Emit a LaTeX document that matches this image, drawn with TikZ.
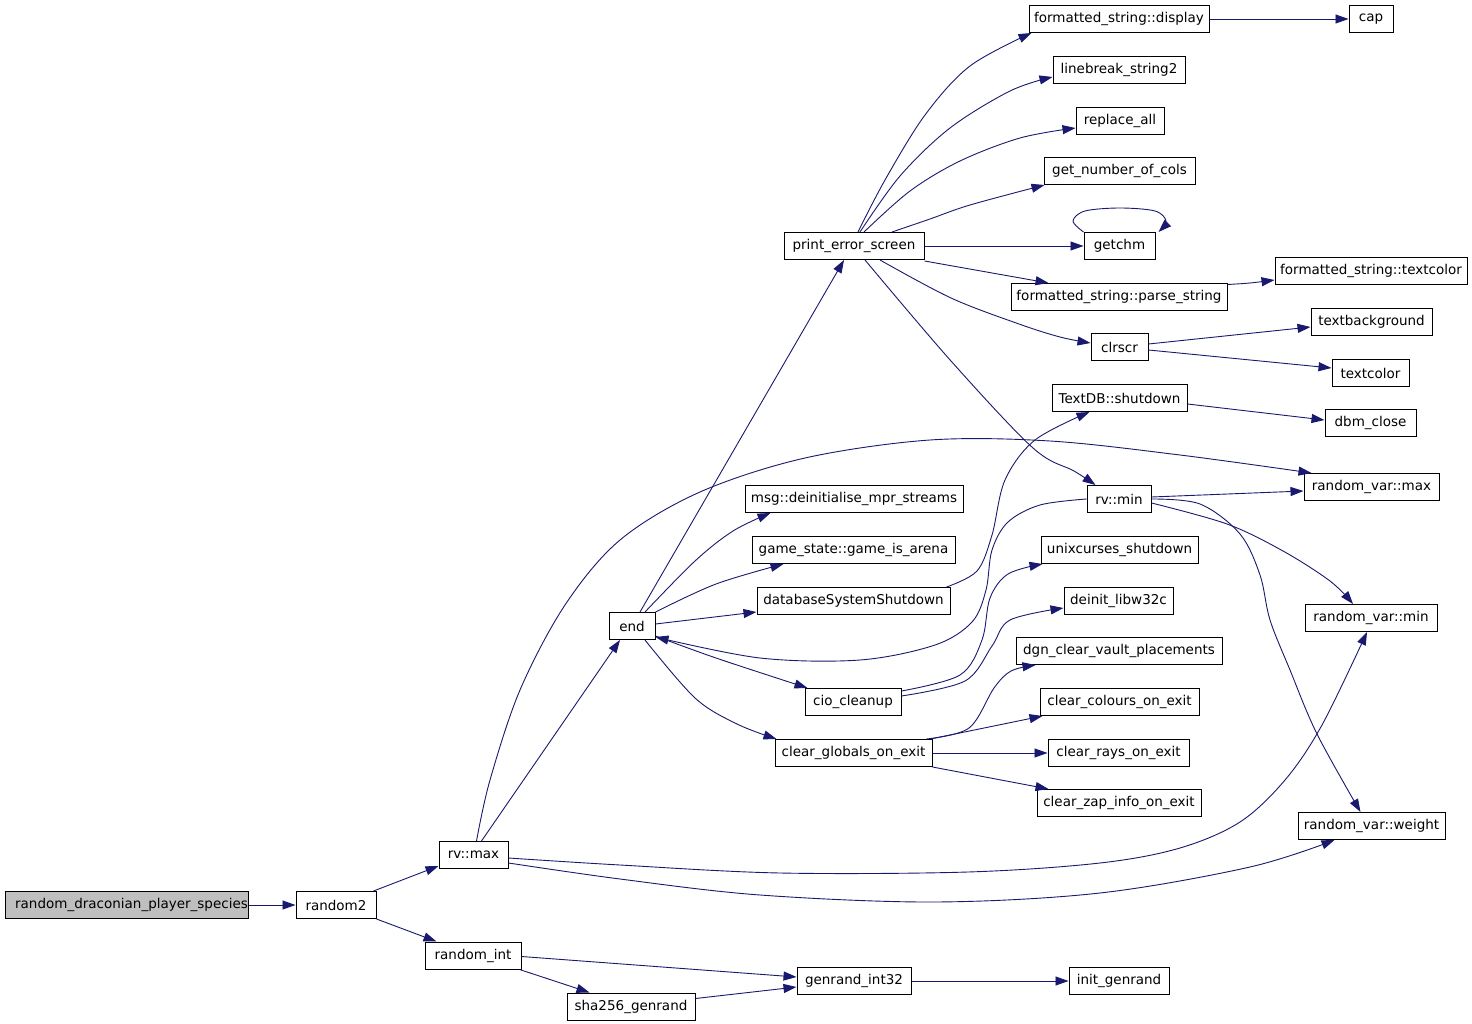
\documentclass[tikz,border=0pt]{standalone}
\usepackage{fontspec}
\setmainfont{DejaVu Sans}
\usetikzlibrary{arrows.meta}
\definecolor{navyc}{HTML}{191970}
\definecolor{greyc}{HTML}{BFBFBF}
\begin{document}
\begin{tikzpicture}[x=1pt,y=-1pt,
  fn/.style={draw=black, fill=white, line width=1pt, minimum height=27pt, inner sep=0pt,
    font=\fontsize{13.5}{15}\selectfont},
  cedge/.style={draw=navyc, line width=0.9pt, -{Triangle[length=13pt,width=9pt]}},
  sm/.style={smooth, tension=0.55}]
\useasboundingbox[fill=white] (0,0) rectangle (1472,1024);
% nodes
\node[fn, minimum width=243pt, fill=greyc] (rdps) at (126.5,905) {\hspace*{10pt}random\_draconian\_player\_species};
\node[fn, minimum width=80pt] (rtwo) at (336,905) {random2};
\node[fn, minimum width=69pt] (rvmax) at (473.5,855) {rv::max};
\node[fn, minimum width=96pt] (rint) at (473,955.5) {random\_int};
\node[fn, minimum width=128pt] (sha) at (631,1006.5) {sha256\_genrand};
\node[fn, minimum width=114pt] (gi32) at (854,981) {genrand\_int32};
\node[fn, minimum width=100pt] (ig) at (1119,981) {init\_genrand};
\node[fn, minimum width=46pt] (endn) at (632,626) {end};
\node[fn, minimum width=140pt] (pes) at (854,246) {print\_error\_screen};
\node[fn, minimum width=180pt] (fsd) at (1119,19) {formatted\_string::display};
\node[fn, minimum width=44pt] (cap) at (1371,19) {cap};
\node[fn, minimum width=132pt] (lb) at (1119,70) {linebreak\_string2};
\node[fn, minimum width=88pt] (ra) at (1120,121) {replace\_all};
\node[fn, minimum width=151pt] (gnc) at (1119.5,171) {get\_number\_of\_cols};
\node[fn, minimum width=71pt] (gch) at (1119.5,246) {getchm};
\node[fn, minimum width=216pt] (ps) at (1119,297) {formatted\_string::parse\_string};
\node[fn, minimum width=192pt] (fst) at (1371,271) {formatted\_string::textcolor};
\node[fn, minimum width=57pt] (clr) at (1119.5,347) {clrscr};
\node[fn, minimum width=121pt] (tb) at (1371.5,322) {textbackground};
\node[fn, minimum width=77pt] (tc) at (1370.5,373) {textcolor};
\node[fn, minimum width=135pt] (tdb) at (1119.5,398) {TextDB::shutdown};
\node[fn, minimum width=91pt] (dbm) at (1370.5,423) {dbm\_close};
\node[fn, minimum width=64pt] (rvmin) at (1119,499) {rv::min};
\node[fn, minimum width=135pt] (rvv) at (1371.5,487) {random\_var::max};
\node[fn, minimum width=218pt] (msg) at (854,499) {msg::deinitialise\_mpr\_streams};
\node[fn, minimum width=203pt] (gs) at (853.5,550) {game\_state::game\_is\_arena};
\node[fn, minimum width=193pt] (dbss) at (853.5,601) {databaseSystemShutdown};
\node[fn, minimum width=157pt] (ux) at (1119.5,550) {unixcurses\_shutdown};
\node[fn, minimum width=109pt] (dl) at (1118.5,601) {deinit\_libw32c};
\node[fn, minimum width=132pt] (rvn) at (1371,618) {random\_var::min};
\node[fn, minimum width=206pt] (dgn) at (1119,651) {dgn\_clear\_vault\_placements};
\node[fn, minimum width=96pt] (cio) at (853,702) {cio\_cleanup};
\node[fn, minimum width=159pt] (cc) at (1119.5,702) {clear\_colours\_on\_exit};
\node[fn, minimum width=157pt] (cg) at (853.5,753) {clear\_globals\_on\_exit};
\node[fn, minimum width=141pt] (cr) at (1118.5,753) {clear\_rays\_on\_exit};
\node[fn, minimum width=164pt] (cz) at (1119,803) {clear\_zap\_info\_on\_exit};
\node[fn, minimum width=147pt] (rvw) at (1371.5,826) {random\_var::weight};
% edges
\draw[cedge] (rdps.east) -- (rtwo.west);
\draw[cedge] ([xshift=-3pt]rtwo.north east) -- ([yshift=3pt]rvmax.south west);
\draw[cedge] (rtwo.south east) -- ([xshift=12pt]rint.north west);
\draw[cedge] ([xshift=8pt]rvmax.north) -- ([xshift=-12pt]endn.south);
\draw[cedge] plot[sm] coordinates {([xshift=3pt]rvmax.north) (490,780) (520,690) (565,605) (620,540) (700,492) (805,458) (930,440) (1050,441) (1180,455) ([xshift=8pt]rvv.north west)};
\draw[cedge] plot[sm] coordinates {([yshift=-3pt]rvmax.east) (620,865) (780,873) (968,872) (1100,863) (1180,848) (1240,822) (1285,780) (1322,725) ([xshift=-4pt]rvn.south)};
\draw[cedge] plot[sm] coordinates {([yshift=-8pt]rvmax.east) (620,879) (760,895) (935,902) (1100,893) (1250,867) ([xshift=-37pt]rvw.south)};
\draw[cedge] ([yshift=-1pt]rint.east) -- ([yshift=4pt]gi32.west);
\draw[cedge] ([xshift=-2pt]rint.south east) -- ([xshift=23pt]sha.north west);
\draw[cedge] ([yshift=-6pt]sha.north east) -- ([yshift=-6pt]gi32.west);
\draw[cedge] (gi32.east) -- (ig.west);
\draw[cedge] ([xshift=8pt]endn.north) -- ([xshift=-10pt]pes.south);
\draw[cedge] plot[sm] coordinates {([xshift=13pt]endn.north) (695,561) (733,531) ([xshift=26pt]msg.south west)};
\draw[cedge] plot[sm] coordinates {(endn.north east) (716,584) ([xshift=32pt]gs.south west)};
\draw[cedge] ([yshift=2pt]endn.east) -- ([yshift=-11pt]dbss.west);
\draw[cedge] plot[sm] coordinates {([yshift=-10pt]endn.east) (716,658) ([xshift=3pt]cio.north west)};
\draw[cedge] plot[sm] coordinates {(rvmin.west) (1040,505) (1008,522) (992,550) (986,590) (972,622) (935,645) (860,660) (760,658) ([yshift=-11pt]endn.east)};
\draw[cedge] plot[sm] coordinates {([xshift=13pt]endn.south) (695,698) (737,724) ([xshift=2pt]cg.north west)};
\draw[cedge] plot[sm] coordinates {([xshift=-4pt]dbss.north east) (977,571) (992,535) (1005,480) (1035,440) ([xshift=-30pt]tdb.south)};
\draw[cedge] ([yshift=-6pt]tdb.east) -- ([yshift=3pt]dbm.west);
\draw[cedge] plot[sm] coordinates {([yshift=-3pt]cio.north east) (960,675) (982,640) (990,598) (1008,574) ([xshift=2pt]ux.south west)};
\draw[cedge] plot[sm] coordinates {([yshift=-8pt]cio.north east) (965,681) (992,646) (1010,620) ([yshift=-7pt]dl.west)};
\draw[cedge] plot[sm] coordinates {([xshift=-6pt]cg.north east) (969,728) (994,688) (1011,671) ([xshift=20pt]dgn.south west)};
\draw[cedge] ([xshift=-2pt]cg.north east) -- ([xshift=3pt]cc.south west);
\draw[cedge] (cg.east) -- (cr.west);
\draw[cedge] (cg.south east) -- ([xshift=12pt]cz.north west);
\draw[cedge] plot[sm] coordinates {([xshift=4pt]pes.north) (885,180) (925,115) (970,66) ([xshift=3pt]fsd.south west)};
\draw[cedge] plot[sm] coordinates {([xshift=6pt]pes.north) (900,176) (950,128) (1010,91) ([yshift=-7pt]lb.west)};
\draw[cedge] plot[sm] coordinates {([xshift=10pt]pes.north) (910,191) (960,161) (1020,138) ([yshift=-7pt]ra.west)};
\draw[cedge] plot[sm] coordinates {([xshift=38pt]pes.north) (930,219) (970,205) ([xshift=1pt]gnc.south west)};
\draw[cedge] (pes.east) -- (gch.west);
\draw[cedge] plot[sm] coordinates {(gch.north west) (1073,221) (1085,211) (1120,208) (1155,211) (1166,221) ([xshift=3pt]gch.north east)};
\draw[cedge] ([yshift=-1pt]pes.south east) -- ([xshift=38pt]ps.north west);
\draw[cedge] plot[sm] coordinates {([yshift=-1.5pt]ps.north east) (1250,283) ([yshift=-9pt]fst.west)};
\draw[cedge] plot[sm] coordinates {([xshift=26pt]pes.south) (951,298) (1019,324) (1060,337) ([yshift=4pt]clr.west)};
\draw[cedge] plot[sm] coordinates {([xshift=11pt]pes.south) (951,361) (1033,448) (1074,471) ([xshift=9pt]rvmin.north west)};
\draw[cedge] ([yshift=3pt]clr.east) -- ([yshift=-5pt]tb.west);
\draw[cedge] ([yshift=-3pt]clr.east) -- ([yshift=5pt]tc.west);
\draw[cedge] ([yshift=2pt]rvmin.east) -- ([yshift=-4pt]rvv.west);
\draw[cedge] plot[sm] coordinates {([yshift=-4pt]rvmin.east) (1227,524) (1283,551) (1330,581) ([xshift=-18pt]rvn.north)};
\draw[cedge] plot[sm] coordinates {(rvmin.east) (1200,504) (1240,534) (1260,575) (1270,620) (1290,670) (1317,734) ([xshift=-11pt]rvw.north)};
\draw[cedge] (fsd.east) -- (cap.west);
\end{tikzpicture}
\end{document}
